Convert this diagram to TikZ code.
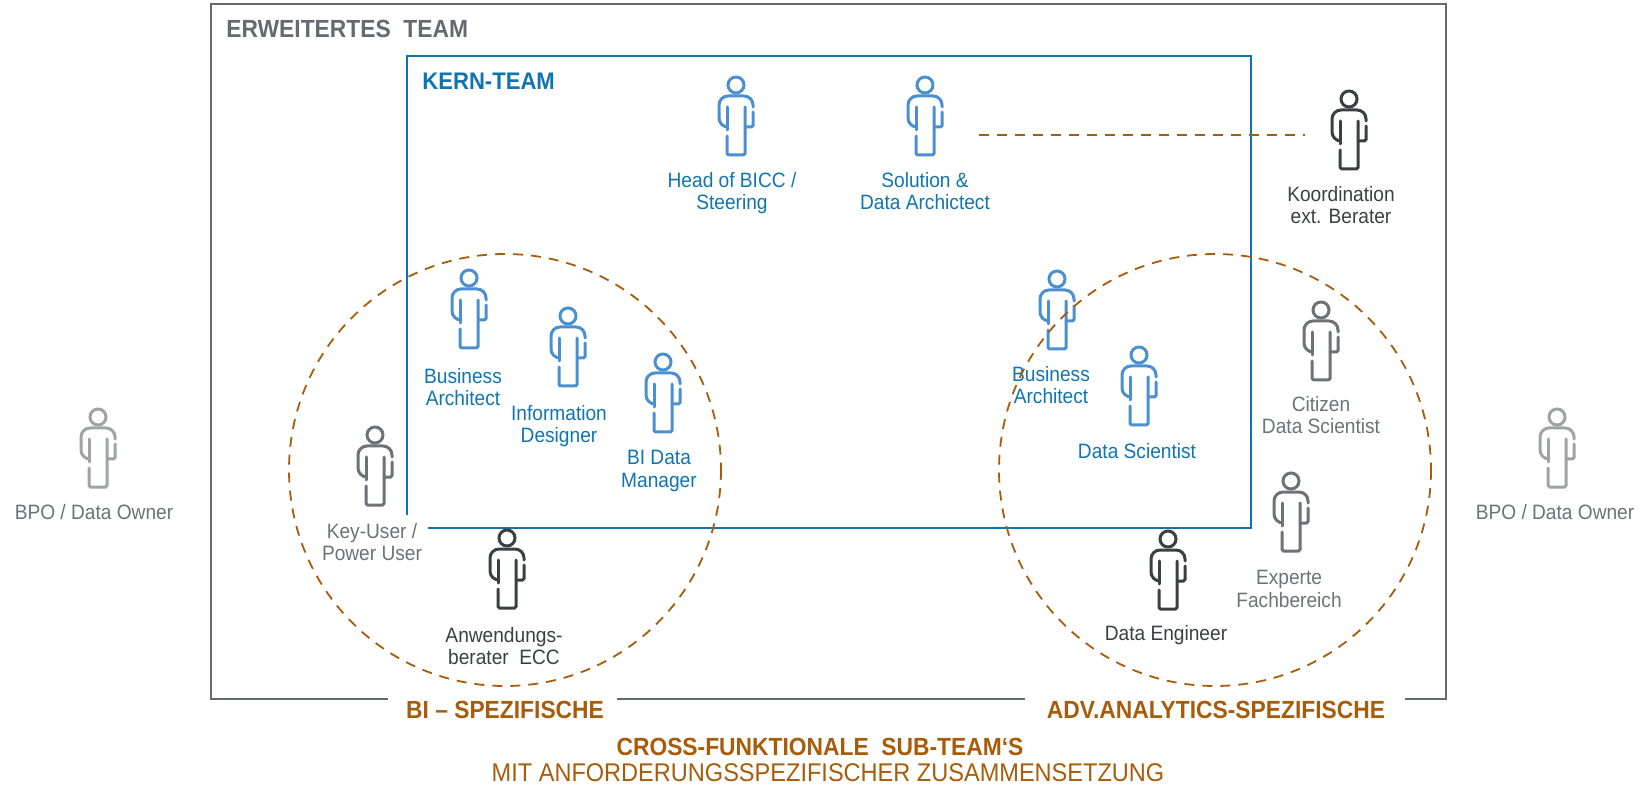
\documentclass[tikz,border=0pt]{standalone}
\usepackage{fontspec}
\setmainfont[FakeStretch=0.92]{Liberation Sans}
\definecolor{kernblue}{HTML}{0F75B0}
\definecolor{iconblue}{HTML}{4A90D0}
\definecolor{subbrown}{HTML}{A85C0A}
\definecolor{teamgray}{HTML}{666A70}
\definecolor{darkgray}{HTML}{3C3F42}
\definecolor{midgray}{HTML}{6D7276}
\definecolor{lightgray}{HTML}{A0A2A4}
\tikzset{
	person/.pic={
		\draw (0,0) circle (8);
		\draw[rounded corners=4.5pt] (-9,42) -- (-17,42) -- (-17,11) -- (17,11) -- (17,22);
		\draw[rounded corners=0.8pt] (17,27) -- (17,42) -- (9,42);
		\draw (-9,22) -- (-9,45);
		\draw[rounded corners=0.8pt] (-9,51) -- (-9,70) -- (9,70) -- (9,22);
	},
	label/.style={align=center, font=\fontsize{10.4}{11.2}\selectfont, inner sep=0pt},
	subdash/.style={subbrown, line width=0.9pt, line cap=butt, dash pattern=on 5pt off 4pt},
	headline/.style={font=\fontsize{12.4}{14}\selectfont\bfseries, inner sep=0pt}
}
\begin{document}
\begin{tikzpicture}[x=0.5pt, y=-0.5pt, line cap=round]
	\useasboundingbox (0,0) rectangle (1647,785);
	% erweitertes team
	\coordinate (outerA) at (388,699);
	\coordinate (outerB) at (211,699);
	\coordinate (outerC) at (211,4);
	\coordinate (outerD) at (1446,4);
	\coordinate (outerE) at (1446,699);
	\coordinate (outerF) at (1405,699);
	\coordinate (outerG) at (1025,699);
	\coordinate (outerH) at (617,699);
	\draw[teamgray, line width=0.8pt, line cap=butt] (outerA) -- (outerB) -- (outerC) -- (outerD) -- (outerE) -- (outerF);
	\draw[teamgray, line width=0.8pt, line cap=butt] (outerG) -- (outerH);
	% kern team
	\coordinate (kernA) at (407,515);
	\coordinate (kernB) at (407,56);
	\coordinate (kernC) at (1251,56);
	\coordinate (kernD) at (1251,528);
	\coordinate (kernE) at (428,528);
	\draw[kernblue, line width=1pt, line cap=butt] (kernA) -- (kernB) -- (kernC) -- (kernD) -- (kernE);
	% people
	\begin{scope}[iconblue, line width=1.5pt]
		\pic (bicc) at (736,85) {person};
		\pic (solution) at (925,85) {person};
		\pic (bizL) at (469,278) {person};
		\pic (info) at (568,316) {person};
		\pic (bidata) at (663,362) {person};
		\pic (bizR) at (1057,279) {person};
		\pic (scientist) at (1139,355) {person};
	\end{scope}
	\begin{scope}[darkgray, line width=1.5pt]
		\pic (koord) at (1349,99) {person};
		\pic (engineer) at (1168,539) {person};
		\pic (ecc) at (507,538) {person};
	\end{scope}
	\begin{scope}[midgray, line width=1.5pt]
		\pic (citizen) at (1321,310) {person};
		\pic (experte) at (1291,481) {person};
		\pic (keyuser) at (375,435) {person};
	\end{scope}
	\begin{scope}[lightgray, line width=1.5pt]
		\pic (bpoL) at (98,417) {person};
		\pic (bpoR) at (1557,417) {person};
	\end{scope}
	% labels
	\node[label, kernblue] (biccT) at (732,193) {Head of BICC /\\Steering};
	\node[label, kernblue] (solutionT) at (925,191) {Solution \&\\Data Archictect};
	\node[label, darkgray] (koordT) at (1341,205) {Koordination\\ext. Berater};
	\node[label, kernblue] (bizLT) at (463,387) {Business\\Architect};
	\node[label, kernblue] (infoT) at (559,426) {Information\\Designer};
	\node[label, kernblue] (bidataT) at (659,471) {BI Data\\Manager};
	\node[label, kernblue] (bizRT) at (1051,385) {Business\\Architect};
	\node[label, kernblue] (scientistT) at (1137,451) {Data Scientist};
	\node[label, midgray] (citizenT) at (1321,415) {Citizen\\Data Scientist};
	\node[label, midgray] (experteT) at (1289,589) {Experte\\Fachbereich};
	\node[label, darkgray] (engineerT) at (1166,635) {Data Engineer};
	\node[label, midgray] (keyuserT) at (372,542) {Key-User /\\Power User};
	\node[label, darkgray] (eccT) at (504,646) {Anwendungs-\\berater\ \ ECC};
	\node[label, midgray] (bpoLT) at (94,512) {BPO / Data Owner};
	\node[label, midgray] (bpoRT) at (1555,512) {BPO / Data Owner};
	% sub teams
	\draw[subdash] (505,470) circle (216);
	\draw[subdash] (1215,470) circle (216);
	\coordinate (dashL) at (979,135);
	\coordinate (dashR) at (1305,135);
	\draw[subdash] (dashL) -- (dashR);
	% headlines
	\node[headline, teamgray, anchor=west] (erweitert) at (226,29) {ERWEITERTES\ \ TEAM};
	\node[headline, kernblue, anchor=west, font=\fontsize{12}{14}\selectfont\bfseries] (kern) at (422,81) {KERN-TEAM};
	\node[headline, subbrown] (biT) at (505,710) {BI -- SPEZIFISCHE};
	\node[headline, subbrown] (advT) at (1216,710) {ADV.ANALYTICS-SPEZIFISCHE};
	\node[headline, subbrown] (crossT) at (820,747) {CROSS-FUNKTIONALE\ \ SUB-TEAM‘S};
	\node[label, subbrown, font=\fontsize{12.8}{14}\selectfont] (mitT) at (828,772.5) {MIT ANFORDERUNGSSPEZIFISCHER ZUSAMMENSETZUNG};
\end{tikzpicture}
\end{document}
